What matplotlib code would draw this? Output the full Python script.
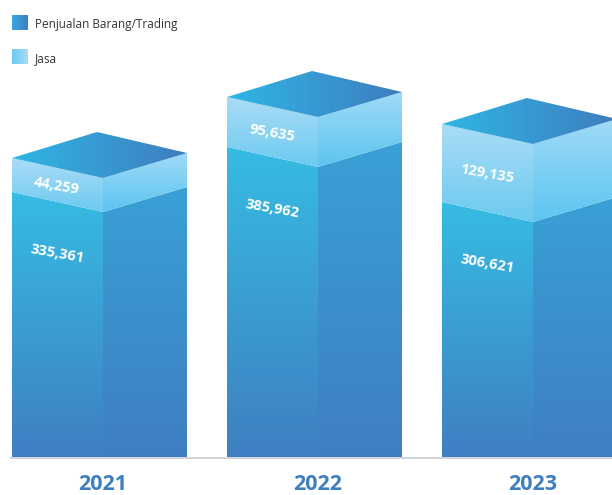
import numpy as np
import matplotlib
matplotlib.use("Agg")
import matplotlib.pyplot as plt
from matplotlib.patches import Polygon
from matplotlib.colors import LinearSegmentedColormap as LSC

years = ["2021", "2022", "2023"]
trading_labels = ["335,361", "385,962", "306,621"]
jasa_labels = ["44,259", "95,635", "129,135"]
# drawn heights at the front edge
trading_height = [245, 290, 235]
jasa_height = [34, 50, 78]
series_names = ["Penjualan Barang/Trading", "Jasa"]

plt.rcParams["font.family"] = ["Open Sans", "DejaVu Sans"]
fig = plt.figure(figsize=(6.12, 4.95), dpi=100)
ax = fig.add_axes([0, 0, 1, 1])
BASE = 38
ax.set_xlim(0, 612)
ax.set_ylim(-BASE, 495 - BASE)
ax.axis("off")


def grad(pts, c0, c1, horizontal=False, z=2):
    """Fill polygon pts with a two-colour gradient."""
    cm = LSC.from_list("g", [c0, c1])
    pts = np.array(pts, float)
    x0, x1 = pts[:, 0].min(), pts[:, 0].max()
    y0, y1 = pts[:, 1].min(), pts[:, 1].max()
    g = np.linspace(0, 1, 256)
    arr = g[None, :] if horizontal else g[:, None]
    im = ax.imshow(arr, cmap=cm, vmin=0, vmax=1, aspect="auto", zorder=z,
                   extent=(x0, x1, y0, y1), origin="upper", interpolation="bilinear")
    poly = Polygon(pts, closed=True, transform=ax.transData, fc="none", ec="none")
    ax.add_patch(poly)
    im.set_clip_path(poly)


lefts = [12, 227, 442]
W_L, W_R = 91, 84
RISE_L, RISE_R = 20, 25
BACK_RISE, BACK_DX = 46, -6

for i in range(3):
    xl = lefts[i]
    xf = xl + W_L
    xr = xf + W_R
    t = trading_height[i]
    top = t + jasa_height[i]
    # trading faces
    grad([(xl, 0), (xf, 0), (xf, t), (xl, t + RISE_L)], "#36bce3", "#3f7fc1")
    grad([(xf, 0), (xr, 0), (xr, t + RISE_R), (xf, t)], "#39a0d6", "#3f7fc1")
    # jasa faces
    grad([(xl, t + RISE_L), (xf, t), (xf, top), (xl, top + RISE_L)], "#aadcf6", "#6ccaf0")
    grad([(xf, t), (xr, t + RISE_R), (xr, top + RISE_R), (xf, top)], "#9fdaf7", "#5cc5f0")
    # top face
    grad([(xl, top + RISE_L), (xf + BACK_DX, top + BACK_RISE), (xr, top + RISE_R), (xf, top)],
         "#2fb6e4", "#3f7dbf", horizontal=True)
    # value labels
    lx = xl + 45
    ax.text(lx, t + RISE_L - 62, trading_labels[i], color="white", fontsize=10.5,
            fontweight="bold", rotation=-10, ha="center", va="center",
            rotation_mode="anchor", zorder=5)
    ax.text(lx, t + 9 + jasa_height[i] / 2, jasa_labels[i], color="white", fontsize=10.5,
            fontweight="bold", rotation=-10, ha="center", va="center",
            rotation_mode="anchor", zorder=5)
    # year labels
    ax.text(xf, -28, years[i], color="#3f7fbf", fontsize=15.5, fontweight="bold",
            ha="center", va="center", zorder=5)

# baseline
ax.plot([10, 612], [-0.5, -0.5], color="#c8ccd4", lw=1.2, zorder=1, solid_capstyle="butt")

# legend
for y, name, c0, c1 in [(442, series_names[0], "#36a8de", "#3f7fc1"),
                        (408, series_names[1], "#6ccaf0", "#aadcf6")]:
    grad([(12, y - 15), (28, y - 15), (28, y), (12, y)], c0, c1, horizontal=True)
    ax.text(35, y - 9.5, name, color="#333333", fontsize=8.5, ha="left", va="center")

ax.set_xlim(0, 612)
ax.set_ylim(-BASE, 495 - BASE)
fig.savefig("out.png", dpi=100)
